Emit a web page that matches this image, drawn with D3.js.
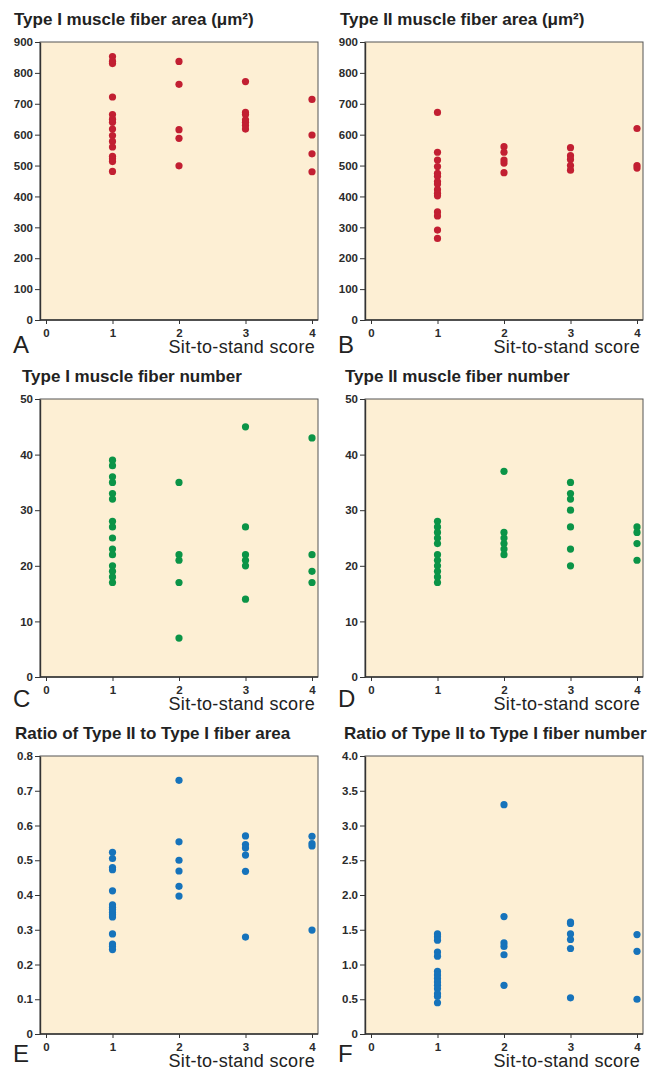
<!DOCTYPE html>
<html>
<head>
<meta charset="utf-8">
<script src="https://cdn.jsdelivr.net/npm/d3@7"></script>
<style>
  body { margin: 0; background: #fff; }
  svg { display: block; font-family: "Liberation Sans", Arial, sans-serif; }
</style>
</head>
<body>
<svg width="650" height="1071"></svg>
<script>
// Values, one array per sit-to-stand score (1..4)
const scores = [1, 2, 3, 4];

const areaTypeI = [
    [853, 838, 830, 722, 665, 650, 640, 618, 597, 578, 560, 530, 522, 513, 481],
    [837, 763, 616, 588, 499],
    [772, 672, 665, 648, 640, 630, 618],
    [714, 599, 538, 480]
];
const areaTypeII = [
    [672, 543, 518, 497, 475, 465, 448, 440, 422, 410, 402, 350, 337, 291, 264],
    [561, 543, 518, 508, 477],
    [558, 532, 520, 500, 485],
    [620, 500, 492]
];
const numberTypeI = [
    [39, 38, 36, 35, 33, 32, 28, 27, 25, 23, 22, 20, 19, 18, 17],
    [35, 22, 21, 17, 7],
    [45, 27, 22, 21, 20, 14],
    [43, 22, 19, 17]
];
const numberTypeII = [
    [28, 27, 26, 25, 24, 22, 21, 20, 19, 18, 17],
    [37, 26, 25, 24, 23, 22],
    [35, 33, 32, 30, 27, 23, 20],
    [27, 26, 24, 21]
];
const ratioArea = [
    [0.523, 0.505, 0.479, 0.473, 0.412, 0.372, 0.365, 0.358, 0.350, 0.343, 0.337, 0.288, 0.259, 0.252, 0.243],
    [0.730, 0.553, 0.500, 0.469, 0.425, 0.397],
    [0.570, 0.545, 0.535, 0.515, 0.468, 0.279],
    [0.569, 0.548, 0.541, 0.299]
];
const ratioNumber = [
    [1.44, 1.40, 1.35, 1.18, 1.12, 0.90, 0.85, 0.80, 0.75, 0.70, 0.65, 0.58, 0.54, 0.45],
    [3.30, 1.69, 1.31, 1.26, 1.14, 0.70],
    [1.61, 1.59, 1.44, 1.36, 1.23, 0.52],
    [1.43, 1.19, 0.50]
];

const xTicks = [0, 1, 2, 3, 4];
const areaTicks = d3.range(0, 901, 100);
const numberTicks = d3.range(0, 51, 10);
const ratioAreaTicks = d3.range(0, 9).map(d => d / 10);
const ratioNumberTicks = d3.range(0, 9).map(d => d / 2);

const red = '#c21f32';
const green = '#0b9447';
const blue = '#1673bb';

const oneDec = d => d === 0 ? '0' : d3.format('.1f')(d);

const panels = [
    { letter: 'A', title: 'Type I muscle fiber area (μm²)', data: areaTypeI, ticks: areaTicks, fmt: d3.format('d'), color: red, col: 0, row: 0, tx: 14 },
    { letter: 'B', title: 'Type II muscle fiber area (μm²)', data: areaTypeII, ticks: areaTicks, fmt: d3.format('d'), color: red, col: 1, row: 0, tx: 15 },
    { letter: 'C', title: 'Type I muscle fiber number', data: numberTypeI, ticks: numberTicks, fmt: d3.format('d'), color: green, col: 0, row: 1, tx: 22 },
    { letter: 'D', title: 'Type II muscle fiber number', data: numberTypeII, ticks: numberTicks, fmt: d3.format('d'), color: green, col: 1, row: 1, tx: 20 },
    { letter: 'E', title: 'Ratio of Type II to Type I fiber area', data: ratioArea, ticks: ratioAreaTicks, fmt: oneDec, color: blue, col: 0, row: 2, tx: 15 },
    { letter: 'F', title: 'Ratio of Type II to Type I fiber number', data: ratioNumber, ticks: ratioNumberTicks, fmt: oneDec, color: blue, col: 1, row: 2, tx: 19 }
];

const colX = [0, 325];
const rowY = [0, 357, 714];
const letterY = [353, 350, 348];
const plot = { left: 40, right: 318, top: 42, bottom: 320 };

const svg = d3.select('svg');

panels.forEach(p => {
    const ox = colX[p.col];
    const oy = rowY[p.row];
    const g = svg.append('g').attr('transform', `translate(${ox},${oy})`);

    const x = d3.scaleLinear().domain([0, 4]).range([46, 312]);
    const y = d3.scaleLinear().domain([0, d3.max(p.ticks)]).range([plot.bottom, plot.top]);

    g.append('rect')
        .attr('x', plot.left)
        .attr('y', plot.top)
        .attr('width', plot.right - plot.left)
        .attr('height', plot.bottom - plot.top)
        .attr('fill', '#fdefd4')
        .attr('stroke', '#555')
        .attr('stroke-width', 1);

    const yAxis = g.append('g')
        .attr('transform', `translate(${plot.left},0)`)
        .call(d3.axisLeft(y).tickValues(p.ticks).tickFormat(p.fmt).tickSize(5).tickPadding(2).tickSizeOuter(0));

    const xAxis = g.append('g')
        .attr('transform', `translate(0,${plot.bottom})`)
        .call(d3.axisBottom(x).tickValues(xTicks).tickFormat(d3.format('d')).tickSize(4).tickPadding(5).tickSizeOuter(0));
    xAxis.select('.domain').attr('d', `M${plot.left},0H${plot.right}`);

    [yAxis, xAxis].forEach(a => {
        a.select('.domain').attr('stroke', '#333').attr('stroke-width', 1.4);
        a.selectAll('.tick line').attr('stroke', '#333');
        a.selectAll('.tick text')
            .attr('fill', '#2b2b2b')
            .style('font-size', '11.5px')
            .style('font-weight', 'bold');
    });

    const pts = [];
    p.data.forEach((vals, i) => vals.forEach(v => pts.push({ s: scores[i], v })));

    g.append('g')
        .selectAll('circle')
        .data(pts)
        .join('circle')
        .attr('cx', d => x(d.s))
        .attr('cy', d => y(d.v))
        .attr('r', 3.6)
        .attr('fill', p.color);

    g.append('text')
        .attr('x', p.tx)
        .attr('y', 25)
        .attr('fill', '#222')
        .style('font-size', '17px')
        .style('font-weight', 'bold')
        .text(p.title);

    g.append('text')
        .attr('x', 315)
        .attr('y', 353)
        .attr('text-anchor', 'end')
        .attr('fill', '#222')
        .style('font-size', '18px')
        .style('letter-spacing', '0.3px')
        .text('Sit-to-stand score');

    g.append('text')
        .attr('x', 13)
        .attr('y', letterY[p.row])
        .attr('fill', '#222')
        .style('font-size', '24px')
        .text(p.letter);
});
</script>
</body>
</html>
